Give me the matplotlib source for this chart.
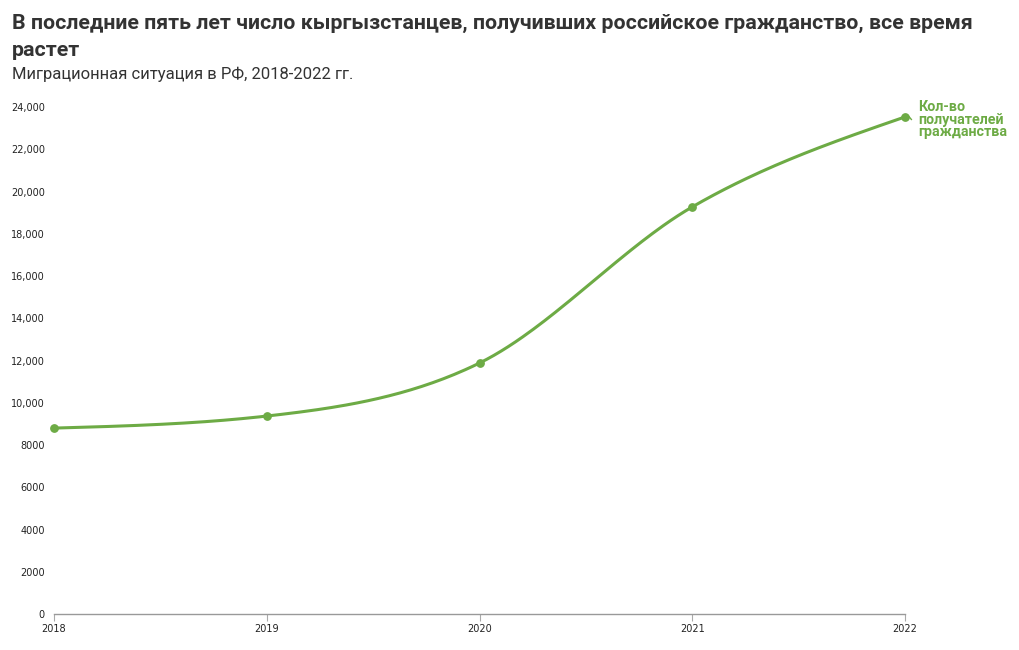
import numpy as np
import matplotlib.pyplot as plt

# Data
years = [2018, 2019, 2020, 2021, 2022]
citizens = [8800, 9370, 11880, 19270, 23530]
yticks = [0, 2000, 4000, 6000, 8000, 10000, 12000, 14000, 16000, 18000, 20000, 22000, 24000]
ytick_labels = ['0', '2000', '4000', '6000', '8000', '10,000', '12,000', '14,000',
                '16,000', '18,000', '20,000', '22,000', '24,000']
series_label = 'Кол-во\nполучателей\nгражданства'
title = 'В последние пять лет число кыргызстанцев, получивших российское гражданство, все время\nрастет'
subtitle = 'Миграционная ситуация в РФ, 2018-2022 гг.'

green = '#6dab45'
text_color = '#333333'


def monotone_curve(x, y, n=60):
    # Fritsch-Carlson monotone cubic, like d3.curveMonotoneX
    x = np.asarray(x, float)
    y = np.asarray(y, float)
    h = np.diff(x)
    d = np.diff(y) / h
    m = np.zeros_like(y)
    for i in range(1, len(y) - 1):
        if d[i - 1] * d[i] <= 0:
            m[i] = 0
        else:
            p = (d[i - 1] * h[i] + d[i] * h[i - 1]) / (h[i - 1] + h[i])
            m[i] = (np.sign(d[i - 1]) + np.sign(d[i])) * min(abs(d[i - 1]), abs(d[i]), 0.5 * abs(p))
    m[0] = (3 * d[0] - m[1]) / 2
    m[-1] = (3 * d[-1] - m[-2]) / 2
    xs, ys = [], []
    for i in range(len(h)):
        t = np.linspace(0, 1, n)
        h00 = 2 * t**3 - 3 * t**2 + 1
        h10 = t**3 - 2 * t**2 + t
        h01 = -2 * t**3 + 3 * t**2
        h11 = t**3 - t**2
        xs.append(x[i] + t * h[i])
        ys.append(h00 * y[i] + h10 * h[i] * m[i] + h01 * y[i + 1] + h11 * h[i] * m[i + 1])
    return np.concatenate(xs), np.concatenate(ys)


fig = plt.figure(figsize=(10.2, 6.5), dpi=100)
ax = fig.add_axes([54 / 1020, 36 / 650, (905 - 54) / 1020, (614 - 107) / 650])

cx, cy = monotone_curve(years, citizens)
ax.plot(cx, cy, color=green, linewidth=2.2, clip_on=False, solid_capstyle='round')
ax.scatter(years, citizens, color=green, s=28, zorder=3, clip_on=False)

ax.set_xlim(years[0], years[-1])
ax.set_ylim(0, 24000)
ax.set_xticks(years)
ax.set_xticklabels([str(y) for y in years], fontsize=7, color='#222222', family='DejaVu Sans')
ax.set_yticks(yticks)
ax.set_yticklabels(ytick_labels, fontsize=7, color='#222222', family='DejaVu Sans')

for s in ['top', 'right', 'left']:
    ax.spines[s].set_visible(False)
ax.spines['bottom'].set_color('#999999')
ax.spines['bottom'].set_linewidth(1)
ax.tick_params(axis='y', length=0, pad=6.5)
ax.tick_params(axis='x', length=5, color='#aaaaaa', pad=2)

# series label at the end of the line
ax.annotate(series_label, xy=(years[-1], citizens[-1]), xytext=(9.5, 12),
            textcoords='offset points', color=green, fontsize=10.3, fontweight='bold',
            family='Roboto', va='top', ha='left', linespacing=0.84,
            annotation_clip=False)
ax.plot([years[-1] + 0.02, years[-1] + 0.03], [citizens[-1], citizens[-1] - 120],
        color=green, linewidth=1, clip_on=False)

fig.text(12 / 1020, 1 - 14 / 650, title, fontsize=15.4, fontweight='bold', color=text_color,
         family='Roboto', va='top', ha='left', linespacing=1.5)
fig.text(12 / 1020, 1 - 67 / 650, subtitle, fontsize=12, color=text_color,
         family='Roboto', va='top', ha='left')

fig.savefig('out.png', dpi=100, facecolor='white')
